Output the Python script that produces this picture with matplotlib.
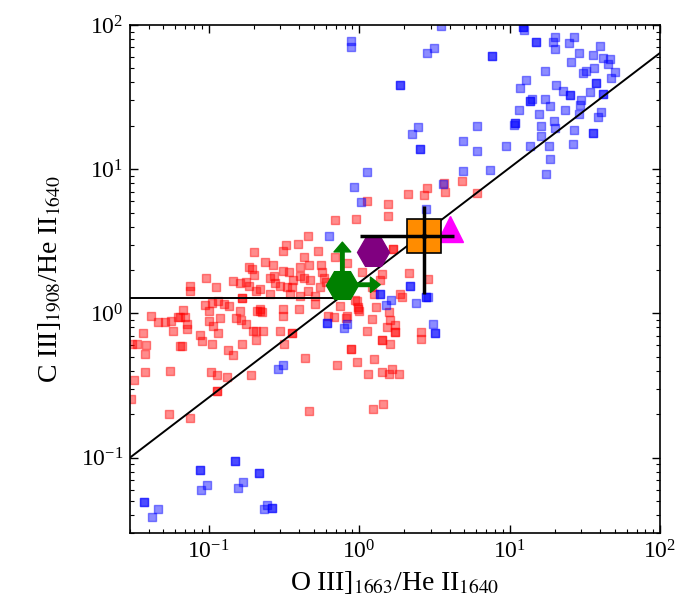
import matplotlib
matplotlib.use("Agg")
import matplotlib.pyplot as plt
import numpy as np

plt.rcParams['font.family'] = ['Liberation Serif', 'DejaVu Serif']
plt.rcParams['mathtext.fontset'] = 'stix'

# red squares (x = OIII]/HeII, y = CIII]/HeII)
red_x = [0.2, 0.184, 0.194, 0.2, 0.096, 0.146, 0.162, 0.177, 0.184, 0.207, 0.112, 0.075, 0.075,
         0.166, 0.166, 0.116, 0.105, 0.0946, 0.101, 0.126, 0.137, 0.162, 0.209, 0.068, 0.0628,
         0.0696, 0.0412, 0.119, 0.152,
         0.046, 0.051, 0.0566, 0.0645, 0.072, 0.0715, 0.058, 0.0365, 0.0333, 0.0307, 0.0384,
         0.0378, 0.0645, 0.066, 0.0378, 0.0317, 0.0306, 0.0557, 0.0546, 0.075, 0.0877, 0.09,
         0.0998, 0.107, 0.116, 0.105, 0.135, 0.146, 0.103, 0.113, 0.133, 0.114, 0.114, 0.166,
         0.163, 0.177, 0.196, 0.207, 0.19,
         0.69, 0.955, 1.12, 0.46, 0.395, 0.327, 0.31, 0.537, 0.427, 0.237, 0.269, 0.314, 0.344,
         0.467, 0.405, 0.556, 0.69, 0.83, 0.565, 0.405, 0.427, 0.472, 0.366, 0.272, 0.256,
         0.299, 0.277, 0.33, 0.357, 0.22, 0.46, 0.55, 0.58, 0.6, 0.51, 0.405, 0.348, 0.256,
         0.966, 0.22, 0.22, 0.311, 0.4, 0.51, 0.75, 0.83, 0.99,
         1.69, 1.69, 2.13, 2.85, 1.42, 1.38, 1.21, 1.25, 1.87, 1.92, 0.99, 1.3, 1.57, 1.61,
         1.21, 1.73, 1.73, 1.73, 1.53, 1.12, 0.82, 2.58, 2.58, 1.42, 1.42, 1.61, 0.89, 0.89,
         0.97, 1.26, 1.15, 1.42, 1.65, 1.59, 1.85, 1.23, 1.45, 1.05, 0.94,
         0.225, 0.314, 0.207, 0.23, 0.299, 0.357, 0.357, 0.317, 0.437, 0.467, 0.625, 0.68,
         1.0, 0.718,
         3.64, 3.73, 4.86, 2.1, 2.82, 2.68, 1.55, 1.55, 6.08]
red_y = [2.66, 2.11, 2.04, 1.86, 1.76, 1.69, 1.62, 1.64, 1.56, 1.44, 1.52, 1.56, 1.44,
         1.28, 1.28, 1.22, 1.19, 1.15, 1.04, 1.16, 1.13, 1.04, 1.04, 1.06, 0.95,
         0.95, 0.96, 0.93, 0.93,
         0.865, 0.865, 0.89, 0.94, 0.84, 0.78, 0.75, 0.726, 0.61, 0.61, 0.605,
         0.52, 0.59, 0.59, 0.39, 0.344, 0.253, 0.4, 0.2, 0.187, 0.71, 0.645,
         0.89, 0.82, 0.726, 0.61, 0.556, 0.515, 0.39, 0.374, 0.362, 0.29, 0.29, 0.618,
         0.9, 0.84, 0.75, 0.65, 0.374,
         4.42, 4.54, 6.03, 3.42, 3.04, 2.96, 2.73, 2.73, 2.48, 2.26, 2.15, 1.98, 1.93,
         2.15, 2.11, 2.15, 2.48, 2.23, 1.93, 1.83, 1.76, 1.71, 1.71, 1.83, 1.76,
         1.56, 1.62, 1.52, 1.52, 1.48, 1.44, 1.52, 1.76, 1.64, 1.33, 1.33, 1.36, 1.36,
         1.22, 1.07, 1.04, 1.07, 1.07, 1.16, 1.13, 0.96, 1.07,
         2.81, 2.81, 1.9, 1.74, 1.88, 1.71, 1.52, 1.36, 1.36, 1.29, 1.1, 1.1, 1.02, 0.9,
         0.91, 0.83, 0.74, 0.74, 0.8, 0.76, 0.93, 0.74, 0.66, 0.65, 0.65, 0.61, 0.565, 0.565,
         0.46, 0.48, 0.378, 0.39, 0.41, 0.378, 0.378, 0.216, 0.234, 1.95, 1.24,
         1.02, 0.96, 0.75, 0.75, 0.75, 0.726, 0.726, 0.61, 0.494, 0.21, 0.96, 0.95,
         1.04, 0.44,
         7.96, 6.96, 8.26, 6.78, 7.35, 6.67, 5.78, 4.73, 6.85]

# blue squares
blue_x = [12.2, 12.2, 12.5, 15.0, 15.0, 19.9, 19.3, 19.9, 27, 25, 25.7, 29, 35.6, 39.8, 41.9,
          46.4, 45.2, 50, 47.6, 32, 31, 36.3, 37.8, 37.8, 34, 41.9, 41.9, 30, 29.3, 40.8, 38.8,
          35.6, 35.6, 27, 26.4, 29, 25.3, 25.3, 22.6, 23.2, 20.5, 17.3, 17.1, 18.7, 14, 13.6,
          13.6, 12.9, 11.8, 11.5, 10.9, 10.9, 10.7, 15.7, 16.3, 19.6, 20, 16.3, 13.6, 18.3,
          18.7, 17.4, 9.4, 7.4, 6.07, 6.07, 4.94, 4.94, 7.7, 7.7, 3.13, 3.5, 3.6,
          0.89, 0.89, 2.84, 1.87, 1.87, 2.46, 2.26, 2.54, 2.54, 1.12, 0.93, 1.03, 0.63, 2.79,
          2.17, 2.17, 2.8, 2.8, 2.87, 2.39, 1.37, 1.37, 1.52, 1.63, 0.61, 0.61, 0.79, 0.83,
          3.1, 3.19, 3.19, 0.287, 0.314,
          0.037, 0.037, 0.0417, 0.0463, 0.0872, 0.0872, 0.0886, 0.0969, 0.15, 0.15, 0.156,
          0.169, 0.215, 0.215, 0.232, 0.245, 0.264, 0.264]
blue_y = [97, 97, 92, 76.7, 76.7, 83, 76.7, 68, 83, 74.6, 55, 63.7, 62, 72, 58.8,
          57.8, 53.6, 46.9, 43.2, 47.9, 46.6, 50, 39.7, 39.7, 34.4, 33.1, 33.1, 30.1, 27.8, 25, 23,
          17.8, 17.8, 18.6, 15, 24.3, 32.9, 32.9, 34.9, 25.6, 38.3, 47.6, 30.9, 27.4, 30.7, 29.6,
          29.6, 41.5, 36.6, 25.6, 20.9, 20.9, 20.3, 24.3, 19.9, 21.6, 19.4, 16.9, 14.6, 14.6,
          11.8, 9.3, 14.6, 9.95, 19.9, 13.3, 15.7, 9.7, 61.2, 61.2, 69.7, 98, 7.9,
          77, 70, 64, 38.1, 38.1, 19.7, 17.5, 13.8, 13.8, 9.6, 7.47, 5.93, 3.46, 5.33,
          1.56, 1.56, 1.29, 1.29, 1.29, 1.18, 1.36, 1.36, 1.14, 1.23, 0.86, 0.86, 0.79, 0.84,
          0.84, 0.73, 0.73, 0.41, 0.44,
          0.0496, 0.0496, 0.039, 0.0437, 0.0815, 0.0815, 0.0592, 0.0643, 0.0946, 0.0946, 0.0615,
          0.0676, 0.078, 0.078, 0.0437, 0.0469, 0.0449, 0.0449]

# reference relation and upper line
line_x = [0.03, 100]
line_y = [0.10, 64]
hline_x = [0.03, 0.75]
hline_y = [1.27, 1.27]

# individual objects
orange_x, orange_y = 2.69, 3.42
orange_xerr = [[2.69 - 1.01], [4.29 - 2.69]]
orange_yerr = [[3.42 - 1.36], [5.53 - 3.42]]
magenta_x, magenta_y = 4.03, 3.84
purple_x, purple_y = 1.24, 2.65
green_x, green_y = 0.774, 1.58
green_xlim, green_ylim = 1.38, 3.12

fig = plt.figure(figsize=(6.78, 6.08), dpi=100)
ax = fig.add_axes([130 / 678, 1 - 533 / 608, 530 / 678, 508 / 608])

ax.scatter(red_x, red_y, marker='s', s=26, c='red', alpha=0.45, linewidths=1, zorder=2)
ax.scatter(blue_x, blue_y, marker='s', s=26, c='blue', alpha=0.45, linewidths=1, zorder=2)

ax.plot(line_x, line_y, color='black', lw=1.4, zorder=3)
ax.plot(hline_x, hline_y, color='black', lw=1.4, zorder=3)

# green lower limits
ax.annotate('', xy=(green_x, green_ylim), xytext=(green_x, green_y),
            arrowprops=dict(color='green', width=2.5, headwidth=12, headlength=7), zorder=4)
ax.annotate('', xy=(green_xlim, green_y), xytext=(green_x, green_y),
            arrowprops=dict(color='green', width=2.5, headwidth=11, headlength=7), zorder=4)
ax.plot(green_x, green_y, marker='H', ms=23, color='green', ls='none', zorder=5)
ax.plot(purple_x, purple_y, marker='H', ms=23, color='purple', ls='none', zorder=5)

ax.plot(magenta_x, magenta_y, marker='^', ms=19, color='magenta', ls='none', zorder=5)
ax.plot(orange_x, orange_y, marker='s', ms=24, color='darkorange', mec='black', mew=1.2,
        ls='none', zorder=6)
ax.errorbar(orange_x, orange_y, xerr=orange_xerr, yerr=orange_yerr, fmt='o', ms=3,
            color='black', elinewidth=2.5, capsize=0, zorder=7)

ax.set_xscale('log')
ax.set_yscale('log')
ax.set_xlim(0.03, 100)
ax.set_ylim(0.03, 100)

ax.tick_params(which='both', direction='in', top=True, right=True, labelsize=17)
ax.tick_params(which='major', length=6, width=1, pad=5)
ax.tick_params(which='minor', length=3, width=0.8)
for sp in ax.spines.values():
    sp.set_linewidth(1.2)

ax.set_xlabel(r'O III]$_{1663}$/He II$_{1640}$', fontsize=20, labelpad=4)
ax.set_ylabel(r'C III]$_{1908}$/He II$_{1640}$', fontsize=20, labelpad=12)

fig.savefig('out.png', dpi=100)
